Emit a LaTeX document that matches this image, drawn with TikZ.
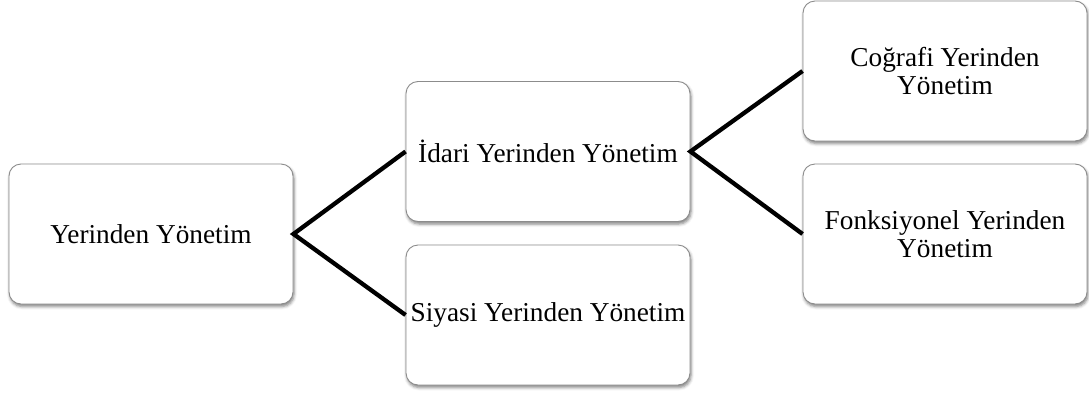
\documentclass[tikz,border=0pt]{standalone}
\usepackage{fontspec}
\setmainfont{Liberation Serif}
\usetikzlibrary{shadows.blur}
\begin{document}
\begin{tikzpicture}[x=1pt,y=-1pt,
  box/.style={draw=black!45, line width=0.9pt, rounded corners=12pt, fill=white,
    minimum width=284pt, minimum height=140pt, inner sep=0pt, align=center,
    font=\fontsize{27.3}{28.5}\selectfont,
    blur shadow={shadow xshift=1pt, shadow yshift=-2.5pt, shadow blur radius=3pt, shadow opacity=50}},
  link/.style={line width=4.3pt, black}]
\useasboundingbox (0,0) rectangle (1089,394);
\node[box] (b1) at (151,234) {Yerinden Yönetim};
\node[box] (b2) at (548,151.5) {İdari Yerinden Yönetim};
\node[box] (b3) at (548,315) {Siyasi Yerinden Yönetim};
\node[box] (b4) at (945,71) {Coğrafi Yerinden\\Yönetim};
\node[box] (b5) at (945,234) {Fonksiyonel Yerinden\\Yönetim};
\draw[link] (b2.west) -- (b1.east) -- (b3.west);
\draw[link] (b4.west) -- (b2.east) -- (b5.west);
\end{tikzpicture}
\end{document}
